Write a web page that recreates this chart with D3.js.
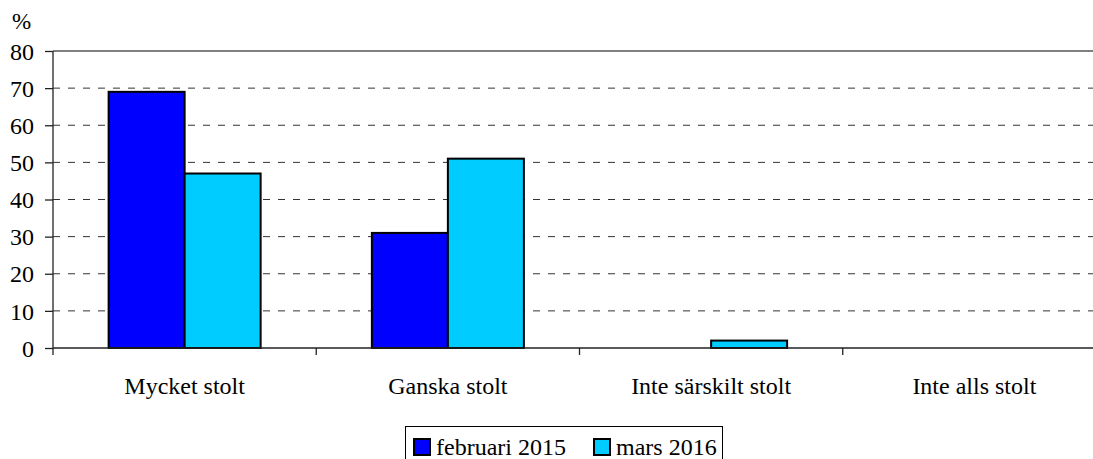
<!DOCTYPE html>
<html><head><meta charset="utf-8">
<script src="https://cdn.jsdelivr.net/npm/d3@7"></script>
<style>body{margin:0;background:#fff}svg{display:block}svg text{font-family:"Liberation Serif","Times New Roman","DejaVu Serif",serif !important;fill:#000}</style>
</head><body>
<svg id="c" width="1093" height="459"></svg>
<script>
const categories = ["Mycket stolt","Ganska stolt","Inte särskilt stolt","Inte alls stolt"];
const seriesNames = ["februari 2015","mars 2016"];
const feb2015 = [69,31,0,0];
const mar2016 = [47,51,2,0];
const yTicks = [0,10,20,30,40,50,60,70,80];
const colors = ["#0000FF","#00CCFF"];
const series = [feb2015, mar2016];

const svg = d3.select("#c");
const L = 53, R = 1106, T = 51, B = 348;
const y = d3.scaleLinear().domain([0,80]).range([B,T]);
const x = d3.scaleBand().domain(categories).range([L,R]).padding(0);
const bw = x.bandwidth();
const barW = 76;
const inner = d3.scaleBand().domain([0,1]).range([0,barW*2]).padding(0);

// gridlines
svg.append("g").selectAll("line").data(yTicks.filter(t=>t>0 && t<80)).join("line")
  .attr("x1",L).attr("x2",1093).attr("y1",d=>y(d)).attr("y2",d=>y(d))
  .attr("stroke","#333").attr("stroke-width",1).attr("stroke-dasharray","7,8");
// top border
svg.append("line").attr("x1",L).attr("x2",1093).attr("y1",y(80)).attr("y2",y(80))
  .attr("stroke","#808080").attr("stroke-width",2);

// bars
const g = svg.append("g");
categories.forEach((c,i)=>{
  series.forEach((s,j)=>{
    const v = s[i];
    if (v<=0) return;
    g.append("rect")
      .attr("x", x(c) + (bw - barW*2)/2 + inner(j))
      .attr("y", y(v))
      .attr("width", inner.bandwidth())
      .attr("height", y(0)-y(v))
      .attr("fill", colors[j]).attr("stroke","#000").attr("stroke-width",2);
  });
});

// y axis
const ya = svg.append("g").attr("transform",`translate(${L},0)`)
  .attr("font-family", null)
  .call(d3.axisLeft(y).tickValues(yTicks).tickSize(8).tickPadding(11));
ya.attr("font-family","Liberation Serif").attr("font-size",24);
ya.select(".domain").remove();
ya.selectAll(".tick line").attr("stroke","#222").attr("stroke-width",1.3);
ya.selectAll(".tick text").style("font-size","24px").attr("fill","#000").attr("dy","0.34em");
svg.append("line").attr("x1",L).attr("x2",L).attr("y1",T).attr("y2",B+7).attr("stroke","#222").attr("stroke-width",1.3);

// x axis
svg.append("line").attr("x1",L).attr("x2",1093).attr("y1",B).attr("y2",B).attr("stroke","#222").attr("stroke-width",1.3);
svg.append("g").selectAll("line").data(categories.slice(1)).join("line")
  .attr("x1",d=>x(d)).attr("x2",d=>x(d)).attr("y1",B).attr("y2",B+7).attr("stroke","#222").attr("stroke-width",1.3);
svg.append("g").selectAll("text").data(categories).join("text")
  .attr("x",d=>x(d)+bw/2).attr("y",394).attr("text-anchor","middle")
  .style("font-size","24px").text(d=>d);

// % label
svg.append("text").attr("x",12).attr("y",29).style("font-size","23px").text("%");

// legend
const lg = svg.append("g");
lg.append("rect").attr("x",405.5).attr("y",426.5).attr("width",317).attr("height",50)
  .attr("fill","#fff").attr("stroke","#000").attr("stroke-width",1);
const legX = [414, 594];
seriesNames.forEach((n,j)=>{
  lg.append("rect").attr("x",legX[j]).attr("y",439).attr("width",16).attr("height",16)
    .attr("fill",colors[j]).attr("stroke","#000").attr("stroke-width",2);
  lg.append("text").attr("x",legX[j]+22).attr("y",455).style("font-size","24px").text(n);
});
</script>
</body></html>
